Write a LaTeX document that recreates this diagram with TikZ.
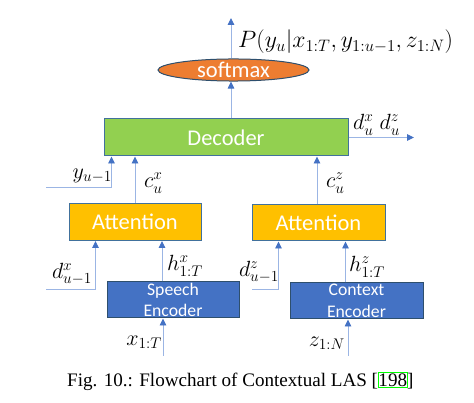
\RequirePackage{fix-cm}
\documentclass[tikz,border=0pt]{standalone}
\usepackage{fontspec}
\setmainfont{Liberation Serif}
\newfontfamily\boxfont{Carlito}
\usetikzlibrary{arrows.meta,shapes.geometric,calc}
\definecolor{linec}{HTML}{9BB5E4}
\definecolor{tipc}{HTML}{4472C4}
\definecolor{bordc}{HTML}{41719C}
\definecolor{decg}{HTML}{92D050}
\definecolor{attn}{HTML}{FFC000}
\definecolor{encb}{HTML}{4472C4}
\definecolor{softo}{HTML}{ED7D31}
\definecolor{linkg}{RGB}{0,255,0}
\tikzset{
  arr/.style={draw=linec, line width=0.9pt, -{Triangle[width=6.5pt,length=7pt,color=tipc,fill=tipc]}},
  blk/.style={draw=bordc, line width=1pt, text=white, font=\boxfont\fontsize{22.5}{24}\selectfont, inner sep=0pt},
  enc/.style={draw=bordc!70!black, line width=1pt, fill=encb, text=white, align=center, font=\boxfont\fontsize{17.7}{21.5}\selectfont, inner sep=0pt, minimum height=36pt},
  lbl/.style={font=\fontsize{22}{26}\selectfont, inner sep=0pt},
  capf/.style={font=\fontsize{19.1}{23}\selectfont},
}
\begin{document}
\begin{tikzpicture}[x=1pt,y=-1pt]
\useasboundingbox (0,0) rectangle (474,403);
% blocks
\node[blk, fill=decg, minimum width=244pt, minimum height=37pt] (dec) at (226,137.5) {Decoder};
\node[blk, ellipse, fill=softo, draw=bordc!70!black, minimum width=151pt, minimum height=20pt] (soft) at (233.5,70) {softmax};
\node[blk, fill=attn, minimum width=132pt, minimum height=37pt] (attL) at (135,222) {Attention};
\node[blk, fill=attn, minimum width=133pt, minimum height=36pt] (attR) at (318.5,223) {Attention};
\node[enc, minimum width=132pt] (spe) at (173,300) {Speech\\Encoder};
\node[enc, minimum width=133pt] (ctx) at (356.5,301) {Context\\Encoder};
% free ends and tap points
\coordinate (ptop) at (231,18);
\coordinate (dout) at (414,137.5);
\coordinate (yin) at (46,187);
\coordinate (dxin) at (46,289);
\coordinate (dzin) at (252,289);
\coordinate (xin) at (163,356);
\coordinate (zin) at (348,356);
\coordinate (czs) at ([xshift=-1.5pt]attR.north);
\coordinate (hxs) at ([xshift=-11pt]spe.north);
\coordinate (hzs) at ([xshift=-11pt]ctx.north);
% connectors
\draw[arr] (dec.north -| ptop) -- (soft.south -| ptop);
\draw[arr] (soft.north -| ptop) -- (ptop);
\draw[arr] (dec.east) -- (dout);
\draw[arr] (yin) -| ([xshift=8pt]dec.south west);
\draw[arr] (attL.north) -- (dec.south -| attL.north);
\draw[arr] (czs) -- (dec.south -| czs);
\draw[arr] (dxin) -| ([xshift=27pt]attL.south west);
\draw[arr] (hxs) -- (attL.south -| hxs);
\draw[arr] (xin) -- (spe.south -| xin);
\draw[arr] (dzin) -| ([xshift=27pt]attR.south west);
\draw[arr] (hzs) -- (attR.south -| hzs);
\draw[arr] (zin) -- (ctx.south -| zin);
% labels
\node[lbl, font=\fontsize{23.7}{28}\selectfont, anchor=west] (lp) at (238,42) {$P(y_u|x_{1:T},y_{1:u-1},z_{1:N})$};
\node[lbl, anchor=west] (ld) at (353,125) {$d^x_u\;d^z_u$};
\node[lbl, anchor=east] (ly) at (112,176) {$y_{u-1}$};
\node[lbl, anchor=west] (lcx) at (144,183) {$c^x_u$};
\node[lbl, anchor=west] (lcz) at (326,183) {$c^z_u$};
\node[lbl, anchor=east] (ldx) at (92,274) {$d^x_{u-1}$};
\node[lbl, anchor=west] (lhx) at (167,266) {$h^x_{1:T}$};
\node[lbl, anchor=east] (ldz) at (279,272) {$d^z_{u-1}$};
\node[lbl, anchor=west] (lhz) at (349,267) {$h^z_{1:T}$};
\node[lbl, anchor=east] (lx) at (162,342) {$x_{1:T}$};
\node[lbl, anchor=east] (lz) at (345,343) {$z_{1:N}$};
% caption
\node[capf, inner sep=0pt, anchor=base west] (cap) at (67,386) {Fig. 10.: Flowchart of Contextual LAS [};
\node[capf, inner xsep=0.3pt, inner ysep=1.2pt, anchor=base west, draw=linkg, line width=0.8pt] (ref) at ([xshift=-0.5pt]cap.base east) {198};
\node[capf, inner sep=0pt, anchor=base west] (capend) at ([xshift=-1pt]ref.base east) {]};
\end{tikzpicture}
\end{document}
